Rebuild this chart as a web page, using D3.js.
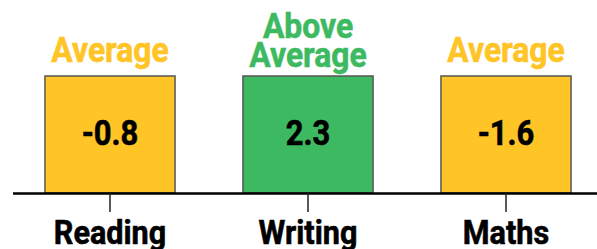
<!DOCTYPE html>
<html>
<head>
<meta charset="utf-8">
<script src="https://cdn.jsdelivr.net/npm/d3@7"></script>
<style>
  body { margin: 0; background: #fff; }
  text { font-family: Roboto, "Noto Sans", sans-serif; font-weight: 700; }
</style>
</head>
<body>
<div id="chart"></div>
<script>
// data
const subjects = ['Reading', 'Writing', 'Maths'];
const scores = [-0.8, 2.3, -1.6];
const ratings = ['Average', 'Above Average', 'Average'];
const barLevel = [1, 1, 1]; // every box is drawn the same height
const ratingColors = { 'Average': '#FFC425', 'Above Average': '#3DBA61' };

const w = 597;
const h = 249;
const baseY = 193;

const xScale = d3.scaleBand()
                 .domain(subjects)
                 .range([11.3, 604.7])
                 .paddingInner(0.343)
                 .paddingOuter(0.17);

const yScale = d3.scaleLinear()
                 .domain([0, 1])
                 .range([baseY, 76]);

const mid = d => xScale(d) + xScale.bandwidth() / 2;

const svg = d3.select('#chart')
              .append('svg')
              .attr('width', w)
              .attr('height', h);

//Bars
svg.selectAll('rect.bar')
   .data(subjects)
   .enter()
   .append('rect')
   .attr('class', 'bar')
   .attr('x', d => xScale(d))
   .attr('y', (d, i) => yScale(barLevel[i]))
   .attr('width', xScale.bandwidth())
   .attr('height', (d, i) => yScale(0) - yScale(barLevel[i]))
   .attr('fill', (d, i) => ratingColors[ratings[i]])
   .attr('stroke', '#555')
   .attr('stroke-width', 1.5);

//Scores inside bars (horizontal squeeze stands in for a condensed face)
svg.selectAll('text.score')
   .data(subjects)
   .enter()
   .append('text')
   .attr('class', 'score')
   .attr('transform', d => `translate(${mid(d)}, 145) scale(0.86, 1)`)
   .attr('text-anchor', 'middle')
   .style('font-size', '36px')
   .attr('fill', '#000')
   .attr('stroke', '#000')
   .attr('stroke-width', 0.6)
   .text((d, i) => scores[i]);

//Rating labels above bars
svg.selectAll('text.rating')
   .data(subjects)
   .enter()
   .append('text')
   .attr('class', 'rating')
   .attr('transform', d => `translate(${mid(d)}, 0) scale(0.91, 1)`)
   .attr('text-anchor', 'middle')
   .style('font-size', '35px')
   .attr('fill', (d, i) => ratingColors[ratings[i]])
   .attr('stroke', (d, i) => ratingColors[ratings[i]])
   .attr('stroke-width', 0.6)
   .each(function(d, i) {
     const words = ratings[i].split(' ');
     const lastY = words.length > 1 ? 67 : 62;
     const el = d3.select(this);
     words.forEach((word, j) => {
       el.append('tspan')
         .attr('x', 0)
         .attr('y', lastY - (words.length - 1 - j) * 29)
         .text(word);
     });
   });

//Axis
const xAxis = d3.axisBottom(xScale).tickSize(19).tickSizeOuter(0);

const axisG = svg.append('g')
                 .attr('transform', `translate(0, ${baseY})`)
                 .call(xAxis);

axisG.select('.domain')
     .attr('d', `M13,0.5H${w}`)
     .attr('stroke', '#000')
     .attr('stroke-width', 2.5);

axisG.selectAll('.tick line')
     .attr('stroke', '#222')
     .attr('stroke-width', 1.5);

axisG.selectAll('.tick text')
     .attr('fill', '#000')
     .attr('stroke', '#000')
     .attr('stroke-width', 0.6)
     .attr('y', 0)
     .attr('dy', 0)
     .attr('transform', `translate(0, ${244 - baseY}) scale(0.9, 1)`)
     .style('font-size', '34px')
     .style('font-family', 'Roboto, sans-serif')
     .style('font-weight', 700);
</script>
</body>
</html>
